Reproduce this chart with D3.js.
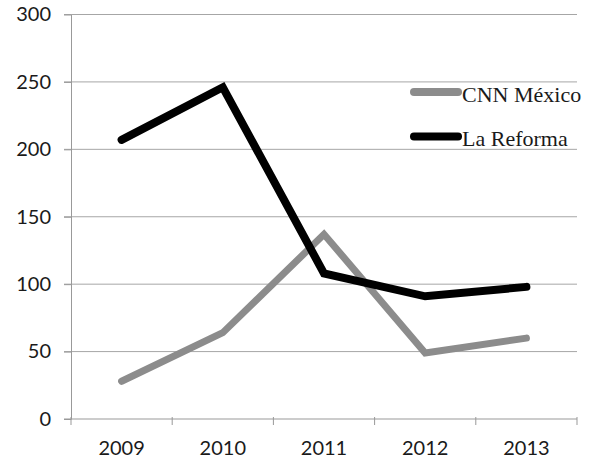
<html>
<head>
    <script src="https://d3js.org/d3.v7.min.js"></script>
    <style>
        body { margin: 0; background: #fff; }
        .grid line { stroke: #a6a6a6; stroke-width: 1px; }
        .axis path, .axis line { stroke: #999; stroke-width: 1px; }
        .axis text { font-family: Lato, "Open Sans", sans-serif; font-size: 20px; fill: #1a1a1a; }
        .legend text { font-family: "Liberation Serif", "DejaVu Serif", serif; font-size: 22px; fill: #1a1a1a; }
    </style>
</head>
<body>
<svg id="chart" width="590" height="460"></svg>
<script>
    // data
    const years = ["2009", "2010", "2011", "2012", "2013"];
    const cnnMexico = [28, 64, 137, 49, 60];
    const laReforma = [207, 246, 108, 91, 98];
    const yTicks = [0, 50, 100, 150, 200, 250, 300];
    const seriesNames = ["CNN México", "La Reforma"];

    const svg = d3.select("#chart");
    const plot = { left: 71, right: 577, top: 14.5, bottom: 419 };

    const x = d3.scaleBand().domain(years).range([plot.left, plot.right]);
    const y = d3.scaleLinear().domain([0, 300]).range([plot.bottom, plot.top]);
    const color = d3.scaleOrdinal().domain(seriesNames).range(["#8c8c8c", "#000000"]);
    const widthOf = { "CNN México": 7, "La Reforma": 8 };

    // horizontal gridlines
    svg.append("g").attr("class", "grid")
        .selectAll("line").data(yTicks.filter(d => d > 0))
        .join("line")
        .attr("x1", plot.left - 7).attr("x2", plot.right)
        .attr("y1", d => y(d)).attr("y2", d => y(d));

    // y axis
    svg.append("g").attr("class", "axis")
        .attr("transform", `translate(${plot.left},0)`)
        .call(d3.axisLeft(y).tickValues(yTicks).tickSize(7).tickPadding(13).tickSizeOuter(0));

    // x axis: labels in the middle of each band, ticks on the band edges
    const xAxis = svg.append("g").attr("class", "axis")
        .attr("transform", `translate(0,${plot.bottom})`);
    xAxis.call(d3.axisBottom(x).tickSize(0).tickPadding(22).tickSizeOuter(0));
    xAxis.select("path.domain").attr("d", `M${plot.left - 7},0H${plot.right}`);
    xAxis.selectAll("line.edge")
        .data(years.map(d => x(d)).concat([x.range()[1]]))
        .join("line")
        .attr("class", "edge")
        .attr("x1", d => d).attr("x2", d => d)
        .attr("y1", -2).attr("y2", 6);

    // lines
    const line = d3.line()
        .x((d, i) => x(years[i]) + x.bandwidth() / 2)
        .y(d => y(d));

    const series = [
        { name: "CNN México", values: cnnMexico },
        { name: "La Reforma", values: laReforma }
    ];

    svg.append("g").selectAll("path")
        .data(series)
        .join("path")
        .attr("fill", "none")
        .attr("stroke", d => color(d.name))
        .attr("stroke-width", d => widthOf[d.name])
        .attr("stroke-linecap", "round")
        .attr("stroke-linejoin", "miter")
        .attr("d", d => line(d.values));

    // legend
    const legend = svg.append("g").attr("class", "legend");
    seriesNames.forEach((name, i) => {
        const ly = 92 + 44.5 * i;
        legend.append("line")
            .attr("x1", 414).attr("x2", 458)
            .attr("y1", ly).attr("y2", ly)
            .attr("stroke", color(name))
            .attr("stroke-width", 8)
            .attr("stroke-linecap", "round");
        legend.append("text")
            .attr("x", 462)
            .attr("y", ly + 9.5)
            .text(name);
    });
</script>
</body>
</html>
